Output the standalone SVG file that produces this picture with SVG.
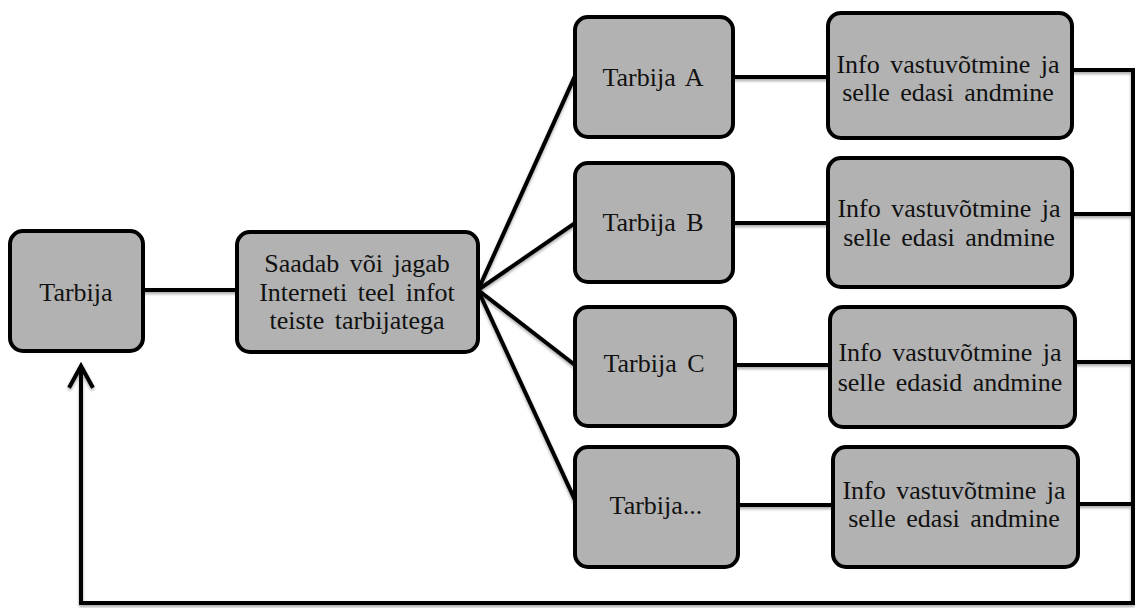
<svg xmlns="http://www.w3.org/2000/svg" width="1135" height="608" viewBox="0 0 1135 608">
<style>
.box{fill:#b2b2b2;stroke:#000;stroke-width:4}
.t{font-family:"Liberation Serif","Times New Roman",serif;font-size:26px;fill:#111;text-anchor:middle;word-spacing:4px}
.ln{stroke:#000;stroke-width:4;fill:none;stroke-linecap:square}
</style>
<defs>
<filter id="sh" x="-5%" y="-5%" width="110%" height="120%">
<feDropShadow dx="0" dy="2" stdDeviation="1.5" flood-color="#000" flood-opacity="0.35"/>
</filter>
</defs>
<g id="connectors" filter="url(#sh)">
<line class="ln" x1="143" y1="290" x2="237" y2="290"/>
<line class="ln" x1="478" y1="290" x2="575" y2="76"/>
<line class="ln" x1="478" y1="290" x2="575" y2="223"/>
<line class="ln" x1="478" y1="290" x2="575" y2="365"/>
<line class="ln" x1="478" y1="290" x2="575" y2="500"/>
<line class="ln" x1="733" y1="77" x2="828" y2="77"/>
<line class="ln" x1="733" y1="223" x2="828" y2="223"/>
<line class="ln" x1="735" y1="365" x2="830" y2="365"/>
<line class="ln" x1="738" y1="505" x2="833" y2="505"/>
<line class="ln" x1="1072" y1="70" x2="1133" y2="70"/>
<line class="ln" x1="1072" y1="214" x2="1133" y2="214"/>
<line class="ln" x1="1075" y1="362" x2="1133" y2="362"/>
<line class="ln" x1="1078" y1="504" x2="1133" y2="504"/>
<polyline class="ln" points="1133,70 1133,603 81,603 81,367"/>
<polyline class="ln" points="70,386 81,366 92,386" stroke-linejoin="miter"/>
</g>
<g id="tarbija"><rect class="box" x="10" y="231" width="133" height="120" rx="13"/><text class="t" x="76" y="301">Tarbija</text></g>
<g id="saadab"><rect class="box" x="237" y="232" width="241" height="120" rx="13"/>
<text class="t" x="357" y="272">Saadab või jagab</text>
<text class="t" x="357" y="301">Interneti teel infot</text>
<text class="t" x="357" y="329">teiste tarbijatega</text></g>
<g id="tarbijaA"><rect class="box" x="575" y="17" width="158" height="120" rx="13"/><text class="t" x="653" y="86">Tarbija A</text></g>
<g id="tarbijaB"><rect class="box" x="575" y="163" width="158" height="119" rx="13"/><text class="t" x="653" y="231">Tarbija B</text></g>
<g id="tarbijaC"><rect class="box" x="575" y="307" width="160" height="119" rx="13"/><text class="t" x="654" y="372">Tarbija C</text></g>
<g id="tarbijaD"><rect class="box" x="575" y="447" width="163" height="120" rx="13"/><text class="t" x="656" y="514">Tarbija...</text></g>
<g id="infoA"><rect class="box" x="828" y="13" width="244" height="125" rx="13"/>
<text class="t" x="948" y="73">Info vastuvõtmine ja</text><text class="t" x="948" y="101">selle edasi andmine</text></g>
<g id="infoB"><rect class="box" x="828" y="158" width="244" height="129" rx="13"/>
<text class="t" x="949" y="217">Info vastuvõtmine ja</text><text class="t" x="949" y="246">selle edasi andmine</text></g>
<g id="infoC"><rect class="box" x="830" y="307" width="245" height="120" rx="13"/>
<text class="t" x="950" y="361">Info vastuvõtmine ja</text><text class="t" x="950" y="391">selle edasid andmine</text></g>
<g id="infoD"><rect class="box" x="833" y="447" width="245" height="120" rx="13"/>
<text class="t" x="954" y="499">Info vastuvõtmine ja</text><text class="t" x="954" y="527">selle edasi andmine</text></g>
</svg>
